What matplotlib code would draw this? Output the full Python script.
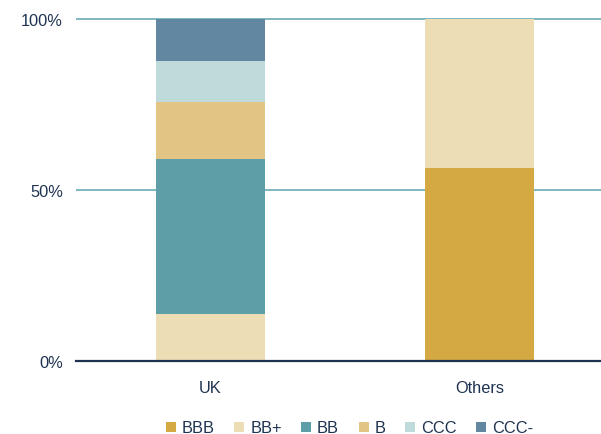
import matplotlib as mpl
mpl.rcParams['font.family'] = ['Liberation Sans', 'DejaVu Sans']
mpl.rcParams['font.size'] = 11.8
import matplotlib.pyplot as plt
import matplotlib.ticker as ticker

# data (share of each rating, %)
groups = ['UK', 'Others']
ratings = ['BBB', 'BB+', 'BB', 'B', 'CCC', 'CCC-']
colors = ['#D4A843', '#EDDDB5', '#5E9FA7', '#E2C584', '#BFDADA', '#6287A0']
uk = [0.0, 13.7, 45.4, 16.7, 12.0, 12.2]
others = [56.4, 43.6, 0.0, 0.0, 0.0, 0.0]

txt = '#1F3350'

fig = plt.figure(figsize=(6.01, 4.35), dpi=100)
ax = fig.add_axes([76/601, 1-362/435, 525/601, 344/435])

x = [0, 1]
bottom = [0.0, 0.0]
for i, r in enumerate(ratings):
    vals = [uk[i], others[i]]
    ax.bar(x, vals, bottom=bottom, width=0.405, color=colors[i], label=r, zorder=3)
    bottom = [bottom[0] + vals[0], bottom[1] + vals[1]]

ax.set_xlim(-0.5, 1.4517)
ax.set_ylim(0, 100.6)
ax.set_yticks([0, 50, 100])
ax.yaxis.set_major_formatter(ticker.FuncFormatter(lambda v, p: '%d%%' % v))
ax.set_xticks(x)
ax.set_xticklabels(groups)
ax.tick_params(length=0, colors=txt, labelsize=11.8)
ax.tick_params(axis='y', pad=9.4)
ax.tick_params(axis='x', pad=14)
for s in ['top', 'right', 'left']:
    ax.spines[s].set_visible(False)
ax.spines['bottom'].set_color('#1F3350')
ax.spines['bottom'].set_linewidth(1.6)
ax.spines['bottom'].set_zorder(4)
for yv in [50, 100]:
    ax.axhline(yv, color='#6AAAB6', lw=1.2, zorder=1)

fig.legend(loc='center', bbox_to_anchor=(349.5/601, 1-429/435), ncol=6, frameon=False,
           handlelength=0.6, handleheight=0.6, handletextpad=0.36, columnspacing=1.2,
           labelcolor=txt, fontsize=11.8)

fig.savefig('out.png', dpi=100)
